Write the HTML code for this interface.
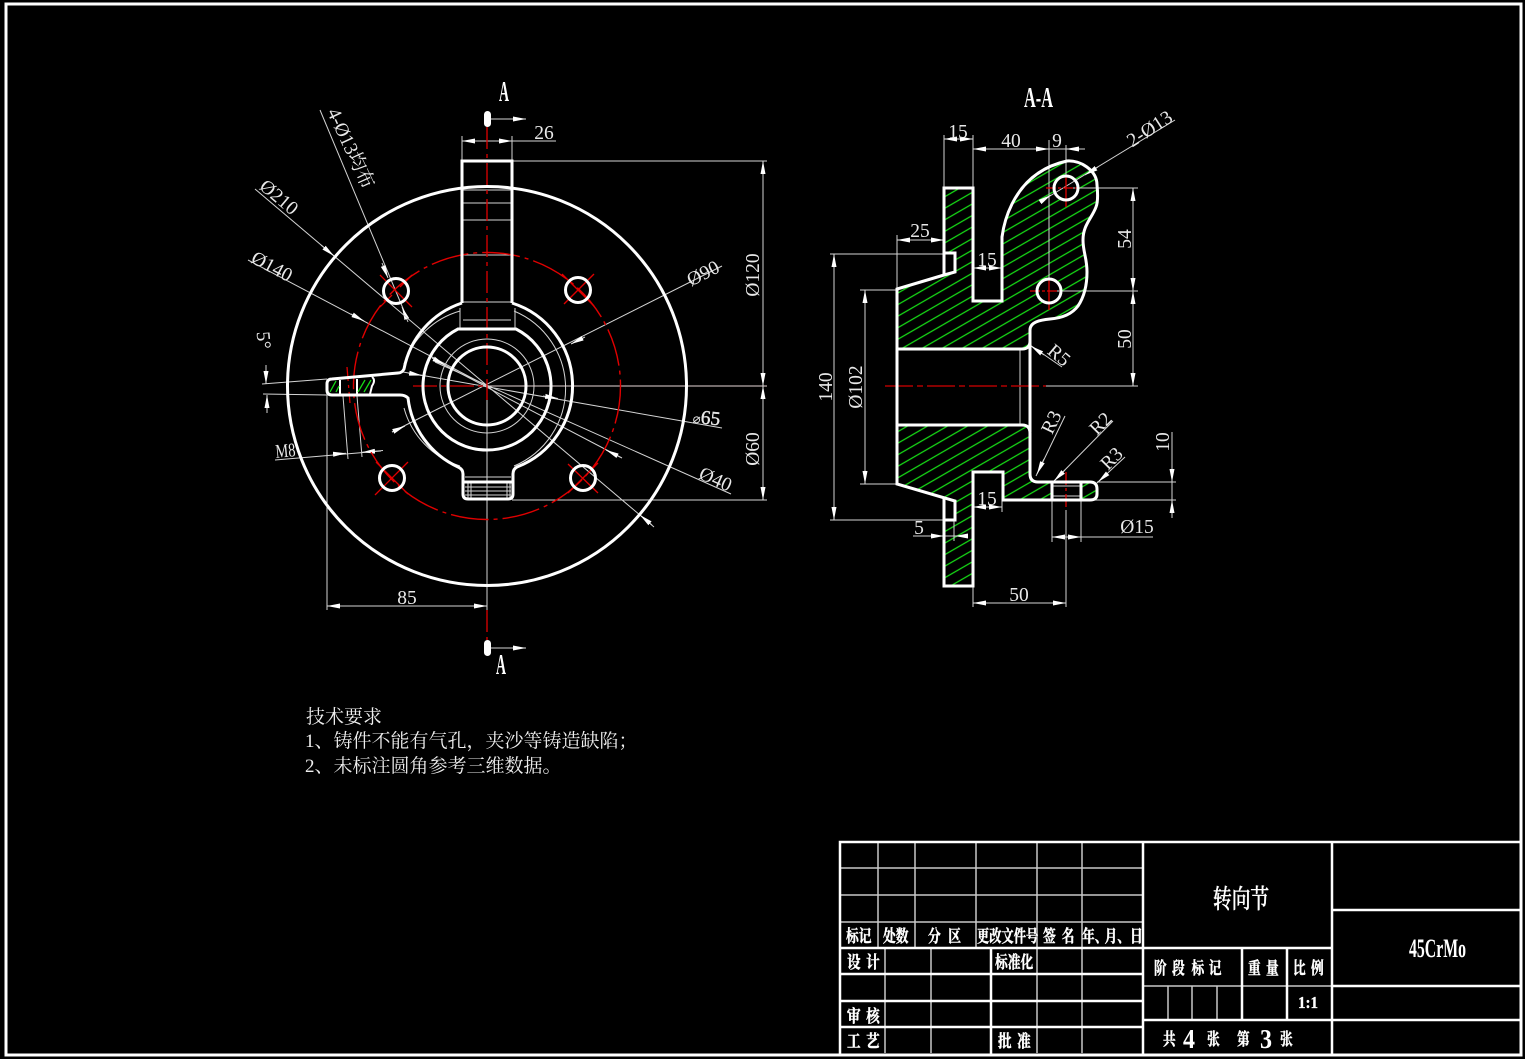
<!DOCTYPE html>
<html><head><meta charset="utf-8"><title>转向节</title>
<style>
html,body{margin:0;padding:0;background:#000;width:1525px;height:1059px;overflow:hidden}
svg{display:block}
.t{font-family:"Liberation Serif","Noto Serif CJK SC",serif;font-size:19.5px;fill:#e8e8e8;text-anchor:middle}
.c{font-family:"Liberation Serif","Noto Serif CJK SC",serif;font-size:19px;fill:#eee}
.b{font-family:"Liberation Serif","Noto Serif CJK SC",serif;font-weight:700;fill:#fff}
.k{font-family:"Noto Serif CJK SC","Liberation Serif",serif;font-weight:700;font-size:17px;fill:#fff;stroke:#fff;stroke-width:.45}
.thin line,.thin path,.thin polyline,.thin circle{stroke:#d4d4d4;stroke-width:1;fill:none}
.thick path,.thick line,.thick circle,.thick rect{stroke:#fff;stroke-width:3;fill:none}
.red line{stroke:#e00000;stroke-width:1.3}
</style></head>
<body>
<svg width="1525" height="1059" viewBox="0 0 1525 1059" xmlns="http://www.w3.org/2000/svg">
<defs>
<marker id="a" markerUnits="userSpaceOnUse" markerWidth="14" markerHeight="8" refX="13" refY="4" orient="auto-start-reverse"><path d="M0,1.5 L13,4 L0,6.5 Z" fill="#fff"/></marker>
<pattern id="h" patternUnits="userSpaceOnUse" width="30" height="10" patternTransform="rotate(-30 897 349)"><line x1="0" y1="1" x2="30" y2="1" stroke="#16dc16" stroke-width="1.3"/></pattern>
</defs>
<rect width="1525" height="1059" fill="#000"/>
<rect x="6" y="4" width="1515" height="1051" fill="none" stroke="#fff" stroke-width="3"/>

<!-- FRONT VIEW thin -->
<g class="thin">
<circle cx="487" cy="386" r="47"/>
<path d="M460,308 V328 M515,308 V328"/>
<path d="M463,190 H511 M463,203 H511 M463,220 H511 M463,255 H511 M463,302 H511 M463,320 H511"/>
<path d="M514,311 A84,84 0 0 1 514,466 M460,311 A84,84 0 0 0 404,364 M404,408 A84,84 0 0 0 460,466"/>
<path d="M465,477 H511 M465,487 H511 M465,491 H511 M465,495 H511 M468,482 V499 M471,482 V499 M507,482 V499 M510,482 V499"/>
<line x1="487" y1="386" x2="487" y2="610"/>
<line x1="487" y1="386" x2="767" y2="386" style="stroke:#e6d6d6"/>
<line x1="327" y1="395" x2="327" y2="610"/>
<line x1="343" y1="396" x2="348" y2="459"/>
<line x1="357" y1="396" x2="362" y2="457"/>
<line x1="275" y1="460" x2="381" y2="451"/>
<line x1="262" y1="384" x2="327" y2="379"/>
<line x1="263" y1="394" x2="327" y2="395"/>
<line x1="266" y1="365" x2="266" y2="384" marker-end="url(#a)"/>
<line x1="267" y1="413" x2="267" y2="395" marker-end="url(#a)"/>
<line x1="333" y1="454.3" x2="346" y2="453.2" marker-end="url(#a)"/>
<line x1="383" y1="450.5" x2="362" y2="452.3" marker-end="url(#a)"/>
<line x1="462" y1="136" x2="462" y2="161"/>
<line x1="512" y1="136" x2="512" y2="161"/>
<line x1="462" y1="141" x2="556" y2="141"/>
<line x1="480" y1="141" x2="462" y2="141" marker-end="url(#a)"/>
<line x1="495" y1="141" x2="512" y2="141" marker-end="url(#a)"/>
<line x1="512" y1="161" x2="767" y2="161"/>
<line x1="512" y1="500" x2="767" y2="500"/>
<line x1="763" y1="161" x2="763" y2="500"/>
<line x1="763" y1="180" x2="763" y2="161" marker-end="url(#a)"/>
<line x1="763" y1="370" x2="763" y2="386" marker-end="url(#a)"/>
<line x1="763" y1="402" x2="763" y2="386" marker-end="url(#a)"/>
<line x1="763" y1="485" x2="763" y2="500" marker-end="url(#a)"/>
<line x1="327" y1="606" x2="487" y2="606"/>
<line x1="345" y1="606" x2="327" y2="606" marker-end="url(#a)"/>
<line x1="470" y1="606" x2="487" y2="606" marker-end="url(#a)"/>
<line x1="320" y1="110" x2="407" y2="318"/>
<line x1="382" y1="263" x2="388" y2="278" marker-end="url(#a)"/>
<line x1="408" y1="322" x2="402" y2="307" marker-end="url(#a)"/>
<line x1="255" y1="189" x2="654" y2="527"/>
<line x1="321" y1="245" x2="334" y2="256" marker-end="url(#a)"/>
<line x1="652" y1="525" x2="640" y2="515" marker-end="url(#a)"/>
<line x1="248" y1="260" x2="487" y2="386"/>
<line x1="351" y1="314" x2="364" y2="321" marker-end="url(#a)"/>
<line x1="392" y1="432" x2="722" y2="266"/>
<line x1="392" y1="432" x2="405" y2="426" marker-end="url(#a)"/>
<line x1="585" y1="337" x2="571" y2="344" marker-end="url(#a)"/>
<line x1="403" y1="372" x2="722" y2="428"/>
<line x1="408" y1="373" x2="422" y2="375.5" marker-end="url(#a)"/>
<line x1="543" y1="396" x2="558" y2="398.5" marker-end="url(#a)"/>
<line x1="435" y1="362" x2="731" y2="494"/>
<line x1="435" y1="360" x2="622" y2="458"/>
<line x1="620" y1="457" x2="606" y2="450" marker-end="url(#a)"/>
<line x1="432" y1="358" x2="445" y2="365" marker-end="url(#a)"/>
</g>

<!-- FRONT centre lines -->
<g class="red">
<line x1="487" y1="127" x2="487" y2="400" stroke-dasharray="22 5 4 5"/>
<line x1="413" y1="386" x2="487" y2="386" stroke-dasharray="24 4 5 4" style="stroke:#b00000;stroke-width:1.6"/>
<line x1="487" y1="610" x2="487" y2="640" stroke-dasharray="22 5 4 5"/>
<line x1="347" y1="367" x2="350" y2="403" stroke-dasharray="14 4 3 4"/>
<line x1="380" y1="275" x2="412" y2="307"/><line x1="380" y1="307" x2="392" y2="295"/><line x1="400" y1="287" x2="412" y2="275"/>
<line x1="564" y1="304" x2="594" y2="274"/><line x1="562" y1="274" x2="594" y2="306"/>
<line x1="375" y1="495" x2="408" y2="462"/><line x1="376" y1="462" x2="408" y2="494"/>
<line x1="568" y1="464" x2="598" y2="493"/><line x1="598" y1="463" x2="568" y2="493"/>
</g>
<circle cx="487" cy="386" r="133.5" fill="none" stroke="#e00000" stroke-width="1.4" stroke-dasharray="38 5 4 5"/>

<!-- FRONT thick -->
<g class="thick">
<circle cx="487" cy="386" r="199.5"/>
<circle cx="487" cy="386" r="39"/>
<path d="M458,329 H516 A64,64 0 1 1 458,329 Z"/>
<path d="M462,303 V161 H512 V303"/>
<path d="M512,303 A87,87 0 0 1 517,467 Q513,469 513,474 V494 Q513,499 508,499 H468 Q463,499 463,494 V474 Q463,469 458,467 A87,87 0 0 1 408,398 Q405,395 400,395 H332 Q327,395 327,390 V384 Q327,379 332,379 L398,373 Q402,373 404,369 A87,87 0 0 1 462,303"/>
<path d="M464,482 H512"/>
<circle cx="396" cy="291" r="12.5"/>
<circle cx="578" cy="290" r="12.5"/>
<circle cx="392" cy="478" r="12.5"/>
<circle cx="583" cy="478" r="12.5"/>
</g>
<!-- lug section hatch -->
<path d="M340,380 V394 M357,379 V394 M372,377 Q376,380 372,386 L370,394" stroke="#fff" stroke-width="2" fill="none"/>
<line x1="330" y1="392" x2="336" y2="381" stroke="#16dc16" stroke-width="1.3"/>
<line x1="336" y1="392" x2="339" y2="386" stroke="#16dc16" stroke-width="1.3"/>
<line x1="358" y1="392" x2="365" y2="380" stroke="#16dc16" stroke-width="1.3"/>
<line x1="364" y1="392" x2="371" y2="380" stroke="#16dc16" stroke-width="1.3"/>

<!-- section markers -->
<rect x="484" y="111" width="7" height="16" rx="3.5" fill="#fff"/>
<rect x="484" y="640" width="7" height="16" rx="3.5" fill="#fff"/>
<g class="thin">
<line x1="491" y1="119" x2="526" y2="119" marker-end="url(#a)"/>
<line x1="491" y1="648" x2="526" y2="648" marker-end="url(#a)"/>
</g>

<!-- FRONT text -->
<text class="b" x="499" y="101" font-size="29" textLength="10" lengthAdjust="spacingAndGlyphs">A</text>
<text class="b" x="496" y="674" font-size="29" textLength="10" lengthAdjust="spacingAndGlyphs">A</text>
<text class="t" x="544" y="139">26</text>
<text class="t" x="407" y="604">85</text>
<text class="t" transform="translate(759,275) rotate(-90)">Ø120</text>
<text class="t" transform="translate(759,449) rotate(-90)">Ø60</text>
<text class="t" transform="translate(706,279) rotate(-27)">Ø90</text>
<text class="t" transform="translate(706,424) rotate(6)"><tspan font-size="13">&#8960;</tspan><tspan stroke="#e8e8e8" stroke-width=".4">65</tspan></text>
<text class="t" transform="translate(713,485) rotate(24)">Ø40</text>
<text class="t" transform="translate(275,202) rotate(40)">Ø210</text>
<text class="t" transform="translate(269,272) rotate(28)">Ø140</text>
<text class="t" transform="translate(345,151) rotate(65)" font-size="18" textLength="86" lengthAdjust="spacingAndGlyphs">4-&#216;13均布</text>
<text class="t" style="text-anchor:start" transform="translate(256.6,332) rotate(85)" font-size="18">5°</text>
<text class="t" transform="translate(286,457) rotate(-5)" textLength="20" lengthAdjust="spacingAndGlyphs">M8</text>

<!-- SIDE hatch -->
<path fill="url(#h)" fill-rule="evenodd" d="M944,188 H973 V301 H1002 V237 C1004,222 1008,212 1012,204 C1020,188 1035,168 1067,161 C1080,160 1097,170 1097,185 C1098,195 1098,202 1096,207 C1092,218 1083,225 1083,240 C1083,252 1087,258 1087,272 C1087,290 1082,300 1078,306 C1072,314 1063,318 1050,319 C1040,320 1030,322 1030,330 V343 Q1030,349 1022,349 H897 V289 L944,275 L955,272 V253 H945 L944,253 Z
M1078,188 A12,12 0 1 0 1054,188 A12,12 0 1 0 1078,188 Z M1061,291 A12,12 0 1 0 1037,291 A12,12 0 1 0 1061,291 Z"/>
<path fill="url(#h)" d="M897,425 H1022 Q1030,425 1030,433 V474 Q1030,482 1038,482 H1052 V500 H1003 V472 H973 V586 H944 V520 H955 V501 L944,498 L897,484 Z"/>
<path fill="url(#h)" d="M1082,482 H1090 Q1097,482 1097,489 V494 Q1097,500 1090,500 H1082 Z"/>

<!-- SIDE thin -->
<g class="thin">
<line x1="1020" y1="349" x2="1020" y2="425"/>
<line x1="1052" y1="486" x2="1081" y2="486"/>
<line x1="1052" y1="496" x2="1081" y2="496"/>
<line x1="944" y1="135" x2="944" y2="188"/>
<line x1="973" y1="135" x2="973" y2="188"/>
<line x1="944" y1="139" x2="973" y2="139"/>
<line x1="960" y1="139" x2="944" y2="139" marker-end="url(#a)"/>
<line x1="958" y1="139" x2="973" y2="139" marker-end="url(#a)"/>
<line x1="973" y1="149" x2="1085" y2="149"/>
<line x1="988" y1="149" x2="973" y2="149" marker-end="url(#a)"/>
<line x1="1034" y1="149" x2="1049" y2="149" marker-end="url(#a)"/>
<line x1="1081" y1="149" x2="1066" y2="149" marker-end="url(#a)"/>
<line x1="1049" y1="140" x2="1049" y2="290"/>
<line x1="1066" y1="145" x2="1066" y2="188"/>
<line x1="897" y1="235" x2="897" y2="289"/>
<line x1="897" y1="240" x2="944" y2="240"/>
<line x1="912" y1="240" x2="897" y2="240" marker-end="url(#a)"/>
<line x1="930" y1="240" x2="944" y2="240" marker-end="url(#a)"/>
<line x1="830" y1="254" x2="945" y2="254"/>
<line x1="830" y1="520" x2="945" y2="520"/>
<line x1="834" y1="254" x2="834" y2="520"/>
<line x1="834" y1="270" x2="834" y2="254" marker-end="url(#a)"/>
<line x1="834" y1="504" x2="834" y2="520" marker-end="url(#a)"/>
<line x1="860" y1="290" x2="897" y2="290"/>
<line x1="860" y1="484" x2="897" y2="484"/>
<line x1="865" y1="290" x2="865" y2="484"/>
<line x1="865" y1="305" x2="865" y2="290" marker-end="url(#a)"/>
<line x1="865" y1="470" x2="865" y2="484" marker-end="url(#a)"/>
<line x1="973" y1="268" x2="1002" y2="268"/>
<line x1="988" y1="268" x2="973" y2="268" marker-end="url(#a)"/>
<line x1="987" y1="268" x2="1002" y2="268" marker-end="url(#a)"/>
<line x1="973" y1="507" x2="1002" y2="507"/>
<line x1="1002" y1="472" x2="1002" y2="512"/>
<line x1="988" y1="507" x2="973" y2="507" marker-end="url(#a)"/>
<line x1="987" y1="507" x2="1002" y2="507" marker-end="url(#a)"/>
<line x1="1070" y1="188" x2="1138" y2="188"/>
<line x1="1052" y1="291" x2="1138" y2="291"/>
<line x1="1046" y1="386" x2="1138" y2="386"/>
<line x1="1133" y1="188" x2="1133" y2="386"/>
<line x1="1133" y1="204" x2="1133" y2="188" marker-end="url(#a)"/>
<line x1="1133" y1="276" x2="1133" y2="291" marker-end="url(#a)"/>
<line x1="1133" y1="306" x2="1133" y2="291" marker-end="url(#a)"/>
<line x1="1133" y1="372" x2="1133" y2="386" marker-end="url(#a)"/>
<line x1="1030" y1="345" x2="1062" y2="367"/>
<line x1="1044" y1="355" x2="1031" y2="346" marker-end="url(#a)"/>
<line x1="1036" y1="476" x2="1065" y2="416"/>
<line x1="1044" y1="459" x2="1037" y2="474" marker-end="url(#a)"/>
<line x1="1053" y1="482" x2="1113" y2="421"/>
<line x1="1065" y1="470" x2="1054" y2="481" marker-end="url(#a)"/>
<line x1="1097" y1="483" x2="1125" y2="457"/>
<line x1="1108" y1="473" x2="1098" y2="482" marker-end="url(#a)"/>
<line x1="1097" y1="482" x2="1176" y2="482"/>
<line x1="1090" y1="500" x2="1176" y2="500"/>
<line x1="1172" y1="432" x2="1172" y2="518"/>
<line x1="1172" y1="468" x2="1172" y2="482" marker-end="url(#a)"/>
<line x1="1172" y1="514" x2="1172" y2="500" marker-end="url(#a)"/>
<line x1="1052" y1="500" x2="1052" y2="542"/>
<line x1="1081" y1="500" x2="1081" y2="542"/>
<line x1="1052" y1="537" x2="1153" y2="537"/>
<line x1="1067" y1="537" x2="1052" y2="537" marker-end="url(#a)"/>
<line x1="1066" y1="537" x2="1081" y2="537" marker-end="url(#a)"/>
<line x1="913" y1="536" x2="964" y2="536"/>
<line x1="954" y1="520" x2="954" y2="541"/>
<line x1="930" y1="536" x2="944" y2="536" marker-end="url(#a)"/>
<line x1="968" y1="536" x2="955" y2="536" marker-end="url(#a)"/>
<line x1="973" y1="586" x2="973" y2="607"/>
<line x1="1066" y1="510" x2="1066" y2="607"/>
<line x1="973" y1="603" x2="1066" y2="603"/>
<line x1="988" y1="603" x2="973" y2="603" marker-end="url(#a)"/>
<line x1="1051" y1="603" x2="1066" y2="603" marker-end="url(#a)"/>
<line x1="1175" y1="120" x2="1040" y2="202"/>
<line x1="1098" y1="167" x2="1085" y2="175" marker-end="url(#a)"/>
<line x1="1040" y1="202" x2="1051" y2="195" marker-end="url(#a)"/>
</g>
<g class="red">
<line x1="885" y1="386" x2="1046" y2="386" stroke-dasharray="28 4 6 4" style="stroke:#b00000;stroke-width:1.6"/>
<line x1="1046" y1="188" x2="1078" y2="188" stroke-dasharray="10 2 3 2"/>
<line x1="1066" y1="175" x2="1066" y2="207"/>
<line x1="1030" y1="291" x2="1060" y2="291" stroke-dasharray="10 2 3 2"/>
<line x1="1049" y1="280" x2="1049" y2="310"/>
<line x1="1066" y1="472" x2="1066" y2="510" stroke-dasharray="13 3 3 3"/>
</g>

<!-- SIDE thick -->
<g class="thick">
<path d="M944,275 V188 H973 V301 H1002 V237 C1004,222 1008,212 1012,204 C1020,188 1035,168 1067,161 C1080,160 1097,170 1097,185 C1098,195 1098,202 1096,207 C1092,218 1083,225 1083,240 C1083,252 1087,258 1087,272 C1087,290 1082,300 1078,306 C1072,314 1063,318 1050,319 C1040,320 1030,322 1030,330 V432"/>
<path d="M945,253 H955 V272 L944,275 L897,289 V484 L955,501 V520 H945"/>
<path d="M944,498 V586 H973 V472 H1003 V500 H1090 Q1097,500 1097,494 V489 Q1097,482 1090,482 H1038 Q1030,482 1030,474 V433 Q1030,425 1022,425 H897"/>
<path d="M897,349 H1022 Q1030,349 1030,341"/>
<path d="M1052,482 V500 M1081,482 V500"/>
<circle cx="1066" cy="188" r="12"/>
<circle cx="1049" cy="291" r="12"/>
</g>

<!-- SIDE text -->
<text class="b" x="1024" y="107" font-size="29" textLength="29" lengthAdjust="spacingAndGlyphs">A-A</text>
<text class="t" x="958" y="138">15</text>
<text class="t" x="1011" y="147">40</text>
<text class="t" x="1057" y="147">9</text>
<text class="t" x="920" y="237">25</text>
<text class="t" x="987" y="266">15</text>
<text class="t" x="987" y="505">15</text>
<text class="t" x="919" y="534">5</text>
<text class="t" x="1019" y="601">50</text>
<text class="t" x="1137" y="533">Ø15</text>
<text class="t" transform="translate(832,387) rotate(-90)">140</text>
<text class="t" transform="translate(862,387) rotate(-90)">Ø102</text>
<text class="t" transform="translate(1131,239) rotate(-90)">54</text>
<text class="t" transform="translate(1131,339) rotate(-90)">50</text>
<text class="t" transform="translate(1169,442) rotate(-90)">10</text>
<text class="t" transform="translate(1055,360) rotate(40)">R5</text>
<text class="t" transform="translate(1057,425) rotate(-64)">R3</text>
<text class="t" transform="translate(1105,428) rotate(-45)">R2</text>
<text class="t" transform="translate(1116,463) rotate(-45)">R3</text>
<text class="t" transform="translate(1153,134) rotate(-33)">2-Ø13</text>

<!-- Technical notes -->
<text class="c" x="306" y="723">技术要求</text>
<text class="c" x="305" y="747">1、铸件不能有气孔，夹沙等铸造缺陷；</text>
<text class="c" x="305" y="772">2、未标注圆角参考三维数据。</text>

<!-- Title block -->
<g stroke="#c8c8c8" stroke-width="1.5" fill="none">
<path d="M840,868 H1143 M840,895 H1143 M840,922 H1143"/>
<path d="M878,842 V948 M915,842 V948 M976,842 V948 M1037,842 V948 M1082,842 V948"/>
<path d="M885,948 V1053 M931,948 V1053 M1037,948 V1053 M1082,948 V1053"/>
<path d="M1143,986 H1332 M1168,986 V1020 M1192,986 V1020 M1217,986 V1020"/>
</g>
<g stroke="#fff" stroke-width="2.5" fill="none">
<rect x="840" y="842" width="681" height="213"/>
<path d="M1143,842 V1055 M1332,842 V1055 M840,948 H1143 M840,974 H1143 M840,1001 H1143 M840,1027 H1143 M991,948 V1055"/>
<path d="M1143,948 H1332 M1143,1020 H1332 M1242,948 V1020 M1287,948 V1020"/>
<path d="M1332,910 H1521 M1332,986 H1521 M1332,1020 H1521"/>
</g>

<g class="k">
<text transform="translate(846,942) scale(.75,1)" x="0 17">标记</text>
<text transform="translate(883,942) scale(.75,1)" x="0 17">处数</text>
<text transform="translate(928,942) scale(.75,1)" x="0 27">分区</text>
<text transform="translate(977,942) scale(.72,1)" x="0 17 34 51 68">更改文件号</text>
<text transform="translate(1043,942) scale(.75,1)" x="0 25">签名</text>
<text transform="translate(1082,942) scale(.75,1)" x="0 17 30 47 64">年、月、日</text>
<text transform="translate(847,968) scale(.8,1)" x="0 24">设计</text>
<text transform="translate(995,968) scale(.75,1)" x="0 17 34">标准化</text>
<text transform="translate(847,1022) scale(.8,1)" x="0 24">审核</text>
<text transform="translate(847,1047) scale(.8,1)" x="0 24">工艺</text>
<text transform="translate(998,1047) scale(.8,1)" x="0 24">批准</text>
<text transform="translate(1154,974) scale(.75,1)" x="0 24 50 73">阶段标记</text>
<text transform="translate(1248,974) scale(.75,1)" x="0 24">重量</text>
<text transform="translate(1293,974) scale(.75,1)" x="0 24">比例</text>
<text transform="translate(1163,1045) scale(.75,1)">共</text>
<text transform="translate(1207,1045) scale(.75,1)">张</text>
<text transform="translate(1237,1045) scale(.75,1)">第</text>
<text transform="translate(1280,1045) scale(.75,1)">张</text>
<text transform="translate(1213,908) scale(.72,1)" font-size="26" font-weight="500">转向节</text>
</g>
<text class="b" x="1183" y="1048" font-size="27" textLength="12" lengthAdjust="spacingAndGlyphs">4</text>
<text class="b" x="1260" y="1048" font-size="27" textLength="12" lengthAdjust="spacingAndGlyphs">3</text>
<text class="b" x="1298" y="1008" font-size="17" font-weight="400" stroke="#fff" stroke-width=".3" textLength="20" lengthAdjust="spacingAndGlyphs">1:1</text>
<text class="b" x="1409" y="957" font-size="26" font-weight="400" textLength="57" lengthAdjust="spacingAndGlyphs">45CrMo</text>
</svg>
</body></html>
